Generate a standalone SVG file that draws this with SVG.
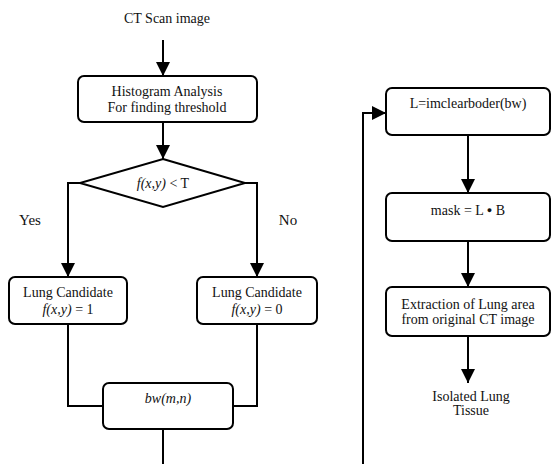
<svg xmlns="http://www.w3.org/2000/svg" width="551" height="464" viewBox="0 0 551 464" font-family="Liberation Serif, DejaVu Serif, Times New Roman, serif">
<defs>
<style>
text{font-family:'Liberation Serif','DejaVu Serif','Times New Roman',serif;fill:#111;text-anchor:middle;dominant-baseline:central}
.t{font-size:14px}
.l{font-size:15px}
.i{font-style:italic}
.box{fill:#fff;stroke:#000;stroke-width:2}
.c{fill:none;stroke:#000;stroke-width:2}
</style>
<marker id="ah" markerUnits="userSpaceOnUse" markerWidth="14" markerHeight="14" refX="14" refY="7" orient="auto" viewBox="0 0 14 14">
<path d="M0,0 L14,7 L0,14 z" fill="#000"/>
</marker>
</defs>
<rect width="551" height="464" fill="#fff"/>
<g id="connectors">
<path class="c" d="M163,40 V76" marker-end="url(#ah)"/>
<path class="c" d="M163,122 V159" marker-end="url(#ah)"/>
<path class="c" d="M80,183 H68 V277" marker-end="url(#ah)"/>
<path class="c" d="M245,183 H257 V277" marker-end="url(#ah)"/>
<path class="c" d="M68,324 V406 H103"/>
<path class="c" d="M257,324 V406 H233"/>
<path class="c" d="M163,429 V464"/>
<path class="c" d="M363,464 V113 H386" marker-end="url(#ah)"/>
<path class="c" d="M468,135 V193" marker-end="url(#ah)"/>
<path class="c" d="M468,241 V287" marker-end="url(#ah)"/>
<path class="c" d="M468,336 V383" marker-end="url(#ah)"/>
</g>
<g id="start"><text class="t" x="167" y="18" font-family="Liberation Serif, serif">CT Scan image</text></g>
<g id="histogram">
<rect class="box" x="78" y="76" width="179" height="46" rx="6"/>
<text class="t" x="167" y="91" font-family="Liberation Serif, serif">Histogram Analysis</text>
<text class="t" x="167" y="107" font-family="Liberation Serif, serif">For finding threshold</text>
</g>
<g id="decision">
<polygon class="box" points="163,159 245,183 163,207 80,183"/>
<text class="t" x="163" y="183" font-family="Liberation Serif, serif"><tspan class="i">f(x,y)</tspan> &lt; T</text>
</g>
<g id="yes-label"><text class="l" x="30" y="220" font-family="Liberation Serif, serif">Yes</text></g>
<g id="no-label"><text class="l" x="288" y="220" font-family="Liberation Serif, serif">No</text></g>
<g id="cand1">
<rect class="box" x="9" y="277" width="118" height="47" rx="6"/>
<text class="t" x="68" y="292" font-family="Liberation Serif, serif">Lung Candidate</text>
<text class="t" x="68" y="309" font-family="Liberation Serif, serif"><tspan class="i">f(x,y)</tspan> = 1</text>
</g>
<g id="cand0">
<rect class="box" x="197" y="277" width="120" height="47" rx="6"/>
<text class="t" x="257" y="292" font-family="Liberation Serif, serif">Lung Candidate</text>
<text class="t" x="257" y="309" font-family="Liberation Serif, serif"><tspan class="i">f(x,y)</tspan> = 0</text>
</g>
<g id="bw">
<rect class="box" x="103" y="383" width="130" height="46" rx="6"/>
<text class="t i" x="168" y="398" font-family="Liberation Serif, serif">bw(m,n)</text>
</g>
<g id="clear">
<rect class="box" x="386" y="88" width="164" height="47" rx="6"/>
<text class="t" x="468" y="103" font-family="Liberation Serif, serif">L=imclearboder(bw)</text>
</g>
<g id="mask">
<rect class="box" x="386" y="193" width="164" height="48" rx="6"/>
<text class="t" x="468" y="210" font-family="Liberation Serif, serif">mask = L <tspan font-size="9px">●</tspan> B</text>
</g>
<g id="extract">
<rect class="box" x="386" y="287" width="164" height="49" rx="6"/>
<text class="t" x="468" y="304" font-family="Liberation Serif, serif">Extraction of Lung area</text>
<text class="t" x="468" y="319" font-family="Liberation Serif, serif">from original CT image</text>
</g>
<g id="end">
<text class="t" x="471" y="396" font-family="Liberation Serif, serif">Isolated Lung</text>
<text class="t" x="471" y="410" font-family="Liberation Serif, serif">Tissue</text>
</g>
</svg>
